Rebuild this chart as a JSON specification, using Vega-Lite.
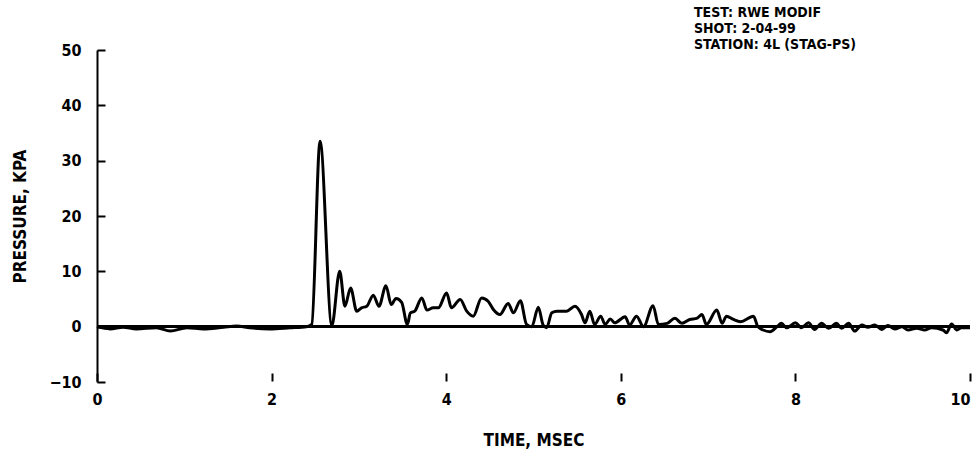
{
  "$schema": "https://vega.github.io/schema/vega-lite/v6.json",
  "width": 873,
  "height": 332,
  "autosize": {"type": "none"},
  "padding": {"left": 97, "top": 50, "right": 7, "bottom": 77},
  "background": "white",
  "config": {
    "view": {"stroke": null},
    "font": "DejaVu Sans Condensed, DejaVu Sans, sans-serif",
    "axis": {"labelFont": "DejaVu Sans Condensed, DejaVu Sans, sans-serif", "titleFont": "DejaVu Sans Condensed, DejaVu Sans, sans-serif", "labelFontWeight": "bold", "titleFontWeight": "bold", "labelColor": "black", "titleColor": "black", "grid": false}
  },
  "title": {
    "text": ["TEST: RWE MODIF", "SHOT: 2-04-99", "STATION: 4L (STAG-PS)"],
    "anchor": "start",
    "frame": "group",
    "dx": 597,
    "offset": -10,
    "font": "DejaVu Sans Condensed, DejaVu Sans, sans-serif",
    "fontSize": 14,
    "fontWeight": "bold",
    "color": "black",
    "lineHeight": 16
  },
  "data": {
    "values": [
      {"t": 0.0, "p": 0}, {"t": 0.15, "p": -0.4}, {"t": 0.30, "p": -0.1}, {"t": 0.45, "p": -0.4},
      {"t": 0.68, "p": -0.2}, {"t": 0.84, "p": -0.8}, {"t": 1.03, "p": -0.2}, {"t": 1.22, "p": -0.4},
      {"t": 1.45, "p": -0.1}, {"t": 1.60, "p": 0.1}, {"t": 1.75, "p": -0.2}, {"t": 1.98, "p": -0.4},
      {"t": 2.21, "p": -0.2}, {"t": 2.40, "p": 0}, {"t": 2.46, "p": 0.4}, {"t": 2.555, "p": 33.5},
      {"t": 2.69, "p": 0.2}, {"t": 2.78, "p": 10.0}, {"t": 2.84, "p": 3.7}, {"t": 2.905, "p": 7.0},
      {"t": 2.975, "p": 2.8}, {"t": 3.03, "p": 3.4}, {"t": 3.09, "p": 3.7}, {"t": 3.165, "p": 5.7},
      {"t": 3.23, "p": 3.7}, {"t": 3.31, "p": 7.4}, {"t": 3.37, "p": 4.0}, {"t": 3.425, "p": 5.1},
      {"t": 3.49, "p": 4.4}, {"t": 3.555, "p": 0.4}, {"t": 3.59, "p": 2.5}, {"t": 3.64, "p": 2.8},
      {"t": 3.72, "p": 5.2}, {"t": 3.78, "p": 3.0}, {"t": 3.85, "p": 3.4}, {"t": 3.91, "p": 3.4},
      {"t": 4.005, "p": 6.1}, {"t": 4.06, "p": 3.4}, {"t": 4.16, "p": 4.9}, {"t": 4.235, "p": 2.8},
      {"t": 4.31, "p": 1.9}, {"t": 4.405, "p": 5.2}, {"t": 4.48, "p": 4.6}, {"t": 4.54, "p": 3.1},
      {"t": 4.615, "p": 2.2}, {"t": 4.71, "p": 4.2}, {"t": 4.77, "p": 2.5}, {"t": 4.85, "p": 4.7},
      {"t": 4.92, "p": 0.4}, {"t": 4.98, "p": 0.0}, {"t": 5.055, "p": 3.5}, {"t": 5.11, "p": 0.3},
      {"t": 5.15, "p": -0.2}, {"t": 5.21, "p": 2.5}, {"t": 5.27, "p": 2.8}, {"t": 5.38, "p": 2.8},
      {"t": 5.475, "p": 3.7}, {"t": 5.55, "p": 2.2}, {"t": 5.59, "p": 0.7}, {"t": 5.645, "p": 2.8},
      {"t": 5.70, "p": 0.4}, {"t": 5.77, "p": 1.9}, {"t": 5.82, "p": 0.4}, {"t": 5.88, "p": 1.4},
      {"t": 5.93, "p": 0.7}, {"t": 6.05, "p": 1.8}, {"t": 6.10, "p": 0.3}, {"t": 6.18, "p": 1.9},
      {"t": 6.26, "p": 0}, {"t": 6.37, "p": 3.8}, {"t": 6.43, "p": 0.4}, {"t": 6.53, "p": 0.6},
      {"t": 6.62, "p": 1.5}, {"t": 6.70, "p": 0.6}, {"t": 6.79, "p": 1.3}, {"t": 6.87, "p": 1.5},
      {"t": 6.93, "p": 2.2}, {"t": 6.98, "p": 0.4}, {"t": 7.10, "p": 3.0}, {"t": 7.16, "p": 0.6},
      {"t": 7.21, "p": 1.9}, {"t": 7.29, "p": 1.3}, {"t": 7.37, "p": 0.9}, {"t": 7.52, "p": 1.9},
      {"t": 7.57, "p": 0}, {"t": 7.63, "p": -0.6}, {"t": 7.71, "p": -0.9}, {"t": 7.79, "p": 0},
      {"t": 7.84, "p": 0.6}, {"t": 7.90, "p": -0.2}, {"t": 8.0, "p": 0.7}, {"t": 8.07, "p": -0.2},
      {"t": 8.15, "p": 0.7}, {"t": 8.22, "p": -0.5}, {"t": 8.30, "p": 0.6}, {"t": 8.38, "p": -0.3},
      {"t": 8.47, "p": 0.6}, {"t": 8.53, "p": -0.3}, {"t": 8.61, "p": 0.6}, {"t": 8.68, "p": -0.8},
      {"t": 8.76, "p": 0.3}, {"t": 8.83, "p": -0.1}, {"t": 8.91, "p": 0.3}, {"t": 8.99, "p": -0.5},
      {"t": 9.06, "p": 0.2}, {"t": 9.14, "p": -0.4}, {"t": 9.22, "p": 0}, {"t": 9.29, "p": -0.6},
      {"t": 9.39, "p": -0.3}, {"t": 9.48, "p": -0.6}, {"t": 9.56, "p": -0.2}, {"t": 9.69, "p": -0.6},
      {"t": 9.73, "p": -1.1}, {"t": 9.79, "p": 0.5}, {"t": 9.85, "p": -0.6}, {"t": 9.90, "p": -0.2},
      {"t": 10.0, "p": -0.2}
    ]
  },
  "layer": [
    {
      "mark": {"type": "rule", "color": "black", "strokeWidth": 2},
      "encoding": {"y": {"datum": 0, "type": "quantitative", "scale": {"domain": [-10, 50]}}}
    },
    {
      "mark": {"type": "line", "color": "black", "strokeWidth": 3, "interpolate": "monotone"},
      "encoding": {
        "x": {
          "field": "t", "type": "quantitative",
          "scale": {"domain": [0, 10], "nice": false, "zero": false},
          "axis": {
            "title": "TIME, MSEC", "values": [0, 2, 4, 6, 8, 10], "format": "d",
            "domain": false, "tickColor": "black", "tickWidth": 2, "tickSize": 8, "offset": -9,
            "labelFontSize": 16, "labelPadding": 10, "labelBaseline": "top", "labelFlush": false, "labelDx": -2,
            "labelAlign": {"condition": {"test": "datum.value == 10", "value": "right"}, "value": "center"},
            "titleFontSize": 17, "titlePadding": 25
          }
        },
        "y": {
          "field": "p", "type": "quantitative",
          "scale": {"domain": [-10, 50], "nice": false, "zero": false},
          "axis": {
            "title": "PRESSURE, KPA", "values": [-10, 0, 10, 20, 30, 40, 50], "format": "d",
            "domain": true, "domainColor": "black", "domainWidth": 2,
            "tickColor": "black", "tickWidth": 2, "tickSize": -8,
            "labelFontSize": 16, "labelPadding": 24, "labelFlush": false,
            "titleFontSize": 17, "titlePadding": 19
          }
        }
      }
    }
  ]
}
